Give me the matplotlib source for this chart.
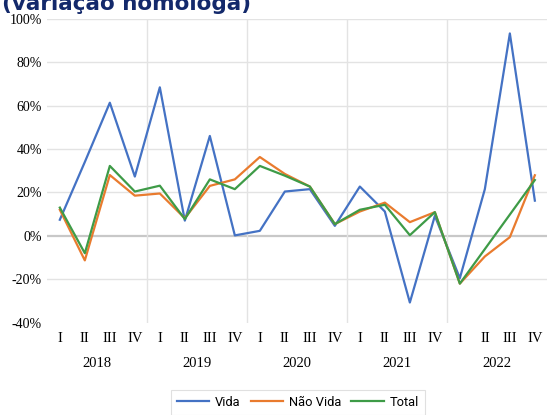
import numpy as np
import matplotlib.pyplot as plt
from matplotlib.transforms import blended_transform_factory

# quarterly year-on-year change (%), 2018 I .. 2022 IV
years = ["2018", "2019", "2020", "2021", "2022"]
quarters = ["I", "II", "III", "IV"]

vida = [7.4, 34.0, 61.3, 27.3, 68.4, 7.0, 46.0, 0.2, 2.3, 20.4,
        21.5, 4.6, 22.7, 11.2, -30.7, 9.2, -19.5, 21.5, 93.2, 16.2]
nao_vida = [12.0, -11.3, 28.0, 18.5, 19.5, 8.1, 23.0, 26.0, 36.3, 28.5,
            22.7, 5.4, 11.2, 15.3, 6.3, 10.9, -22.0, -9.5, -0.6, 27.9]
total = [13.0, -8.0, 32.2, 20.4, 23.1, 7.7, 26.0, 21.5, 32.2, 27.7,
         22.7, 5.4, 12.0, 14.3, 0.3, 10.9, -22.0, -6.1, 9.8, 25.7]

yticks = [-40, -20, 0, 20, 40, 60, 80, 100]

fig = plt.figure(figsize=(5.49, 4.15), dpi=100)
ax = fig.add_axes([0.0862, 0.2224, 0.9108, 0.7326])

x = np.arange(len(vida))
ax.plot(x, vida, color="#4472C4", lw=1.6, label="Vida")
ax.plot(x, nao_vida, color="#E97B2E", lw=1.6, label="Não Vida")
ax.plot(x, total, color="#3E9B47", lw=1.6, label="Total")

ax.set_xlim(-0.5, len(vida) - 0.5)
ax.set_ylim(-40, 100)

# gridlines
ax.set_yticks(yticks)
ax.set_yticklabels([f"{v}%" for v in yticks], family="Liberation Serif", fontsize=10)
for v in yticks:
    if v == 0:
        ax.axhline(v, color="#c8c8c8", lw=1.6, zorder=0)
    elif v != -40:
        ax.axhline(v, color="#e3e3e3", lw=1.0, zorder=0)
for i in range(1, len(years)):
    ax.axvline(4 * i - 0.5, color="#e3e3e3", lw=1.0, zorder=0)

ax.set_xticks(x)
ax.set_xticklabels(quarters * len(years), family="Liberation Serif", fontsize=10.5)
ax.tick_params(length=0)
ax.tick_params(axis="x", pad=7)
ax.tick_params(axis="y", pad=4)
for s in ax.spines.values():
    s.set_visible(False)

trans = blended_transform_factory(ax.transData, fig.transFigure)
for i, yr in enumerate(years):
    ax.text(4 * i + 1.5, 1 - 363 / 415, yr, transform=trans, ha="center", va="center",
            family="Liberation Serif", fontsize=10.5)

# title (cut off at top in the original)
fig.text(2 / 549, 1 - 10.5 / 415, "(variação homóloga)", ha="left", va="baseline",
         fontsize=15.5, fontweight="bold", color="#13296B")

leg = fig.legend(loc="upper left", bbox_to_anchor=(170.7 / 549, 1 - 390 / 415), ncol=3,
                 borderaxespad=0, frameon=True, fancybox=False, edgecolor="#d9d9d9",
                 handlelength=2.5, columnspacing=0.8, handletextpad=0.45, borderpad=0.45,
                 prop={"family": "Roboto", "size": 9.3})
leg.get_frame().set_linewidth(0.8)

fig.savefig("out.png", dpi=100)
